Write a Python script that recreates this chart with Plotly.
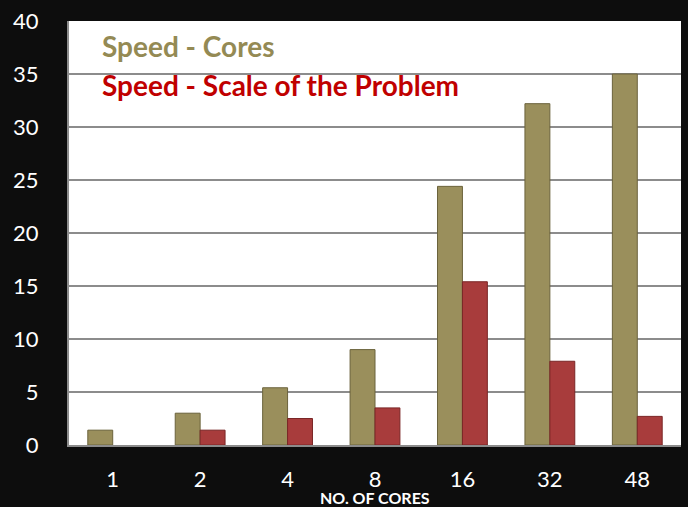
import plotly.graph_objects as go

categories = ["1", "2", "4", "8", "16", "32", "48"]
speed_cores = [1.4, 3.0, 5.4, 9.0, 24.4, 32.2, 35.0]
speed_scale = [0, 1.4, 2.5, 3.5, 15.4, 7.9, 2.7]
series_names = ["Speed - Cores", "Speed - Scale of the Problem"]
y_ticks = [0, 5, 10, 15, 20, 25, 30, 35, 40]

olive = "#9a8f5c"
red = "#a83c3c"
FONT = "Lato, Open Sans, sans-serif"

fig = go.Figure()
fig.add_trace(go.Bar(x=categories, y=speed_cores, name=series_names[0],
                     marker=dict(color=olive, line=dict(color="#6b633c", width=1))))
fig.add_trace(go.Bar(x=categories, y=speed_scale, name=series_names[1],
                     marker=dict(color=red, line=dict(color="#7a2626",
                                                      width=[1 if v > 0 else 0 for v in speed_scale]))))

fig.add_annotation(x=0.05, y=0.94, xref="paper", yref="paper", xanchor="left", yanchor="middle",
                   text="<b>" + series_names[0] + "</b>", showarrow=False,
                   font=dict(family=FONT, size=28, color="#948a54"))
fig.add_annotation(x=0.05, y=0.849, xref="paper", yref="paper", xanchor="left", yanchor="middle",
                   text="<b>" + series_names[1] + "</b>", showarrow=False,
                   font=dict(family=FONT, size=28, color="#c00000"))
fig.add_annotation(x=0.5, y=-0.123, xref="paper", yref="paper", xanchor="center", yanchor="middle",
                   text="<b>NO. OF CORES</b>", showarrow=False,
                   font=dict(family=FONT, size=16, color="white"))

fig.update_layout(
    width=688, height=507,
    margin=dict(l=69, r=7, t=17, b=62),
    paper_bgcolor="#0d0d0d", plot_bgcolor="white",
    barmode="group", bargap=0.43, bargroupgap=0,
    showlegend=False,
    font=dict(family=FONT, size=22, color="white"),
    xaxis=dict(type="category", showgrid=False, ticks="", tickfont=dict(size=22, color="white"),
               showline=True, linecolor="#8c8c8c", linewidth=2, ticklabelstandoff=14),
    yaxis=dict(range=[0, 40], tickvals=y_ticks, showgrid=True, gridcolor="#8c8c8c", gridwidth=2,
               zeroline=False, showline=True, linecolor="#8c8c8c", linewidth=2,
               tickfont=dict(size=22, color="white"), ticks="", ticklabelstandoff=24),
)

fig.write_html("out.html", config={"displayModeBar": False},
               post_script="document.body.style.margin='0';document.body.style.background='#0d0d0d';")
